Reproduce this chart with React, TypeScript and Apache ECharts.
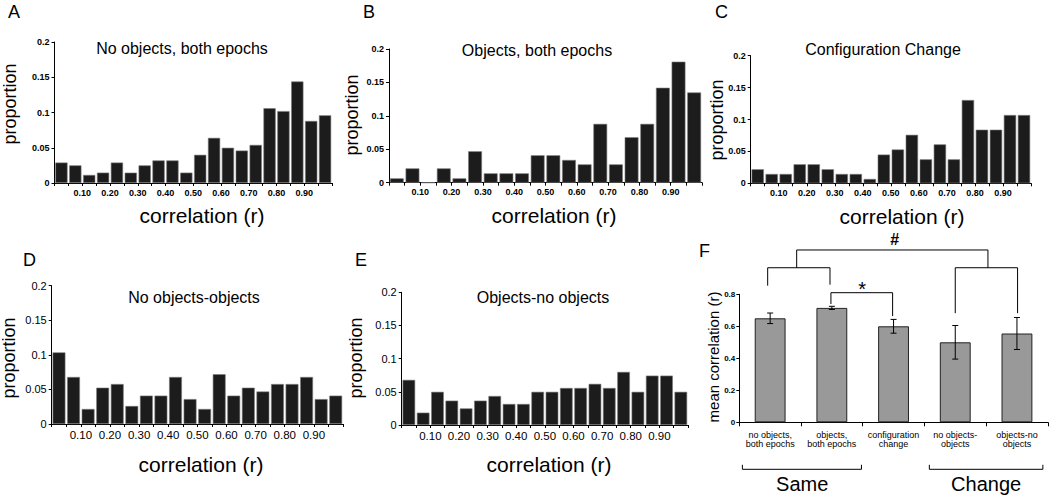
import React, { useEffect, useRef } from "react";
import * as echarts from "echarts";

// ---------- data ----------
const binStarts = [0, 0.05, 0.1, 0.15, 0.2, 0.25, 0.3, 0.35, 0.4, 0.45, 0.5, 0.55, 0.6, 0.65, 0.7, 0.75, 0.8, 0.85, 0.9, 0.95];
const binWidth = 0.05;
const xTickLabels = ["0.10", "0.20", "0.30", "0.40", "0.50", "0.60", "0.70", "0.80", "0.90"];

const noObjectsBoth = [0.029, 0.025, 0.0114, 0.0147, 0.029, 0.0147, 0.025, 0.032, 0.032, 0.0147, 0.04, 0.064, 0.05, 0.046, 0.054, 0.106, 0.102, 0.144, 0.088, 0.096];
const objectsBoth = [0.0065, 0.0214, 0, 0.0214, 0.0065, 0.047, 0.014, 0.014, 0.014, 0.041, 0.041, 0.034, 0.0274, 0.088, 0.0274, 0.068, 0.088, 0.142, 0.181, 0.135];
const configChange = [0.022, 0.0146, 0.0146, 0.0298, 0.0298, 0.022, 0.0146, 0.0146, 0.0068, 0.045, 0.053, 0.076, 0.0376, 0.061, 0.0376, 0.1305, 0.084, 0.084, 0.107, 0.107];
const noObjectsToObjects = [0.1036, 0.068, 0.0217, 0.0525, 0.0578, 0.026, 0.041, 0.041, 0.068, 0.036, 0.0217, 0.072, 0.041, 0.0525, 0.047, 0.0578, 0.0578, 0.068, 0.036, 0.041];
const objectsToNoObjects = [0.068, 0.0186, 0.05, 0.0367, 0.025, 0.0367, 0.0437, 0.0317, 0.0317, 0.05, 0.05, 0.0558, 0.0558, 0.062, 0.0558, 0.08, 0.05, 0.0744, 0.0744, 0.05];

const meanCategories = ["no objects,\nboth epochs", "objects,\nboth epochs", "configuration\nchange", "no objects-\nobjects", "objects-no\nobjects"];
const meanValues = [0.65, 0.715, 0.6, 0.5, 0.555];
const meanErrors = [0.033, 0.01, 0.043, 0.105, 0.1];

// ---------- styling ----------
const FONT = "'Liberation Sans', Arial, Helvetica, sans-serif";
const NARROW = "'Liberation Sans Narrow', 'Liberation Sans', Arial, sans-serif";

type Panel = {
  letter: string;
  title: string;
  values: number[];
  grid: { left: number; top: number; width: number; height: number };
  letterPos: [number, number];
  titlePos: [number, number];
  yNamePos: [number, number];
  xNamePos: [number, number];
  small: boolean;
};

const panels: Panel[] = [
  { letter: "A", title: "No objects, both epochs", values: noObjectsBoth, grid: { left: 54.5, top: 42, width: 277.5, height: 141 }, letterPos: [8, 12], titlePos: [182, 48], yNamePos: [10, 104], xNamePos: [202, 215], small: true },
  { letter: "B", title: "Objects, both epochs", values: objectsBoth, grid: { left: 389, top: 49, width: 313, height: 133.7 }, letterPos: [363, 12], titlePos: [537, 50], yNamePos: [351.5, 115], xNamePos: [554, 215], small: true },
  { letter: "C", title: "Configuration Change", values: configChange, grid: { left: 750.7, top: 55.7, width: 280.3, height: 127.6 }, letterPos: [715, 12], titlePos: [883, 49], yNamePos: [717, 120], xNamePos: [902, 216], small: true },
  { letter: "D", title: "No objects-objects", values: noObjectsToObjects, grid: { left: 51.7, top: 285.7, width: 291.3, height: 138.3 }, letterPos: [23, 260], titlePos: [194, 297], yNamePos: [9, 358], xNamePos: [201, 464], small: false },
  { letter: "E", title: "Objects-no objects", values: objectsToNoObjects, grid: { left: 401.7, top: 292.3, width: 286.3, height: 132.7 }, letterPos: [355, 260], titlePos: [543, 297], yNamePos: [356, 358], xNamePos: [549, 464], small: false },
];

const fGrid = { left: 739.3, top: 294.3, width: 308.5, height: 128 };

const txt = (x: number, y: number, text: string, font: string, extra: any = {}) => ({
  type: "text",
  x,
  y,
  rotation: extra.rotation || 0,
  silent: true,
  z: 100,
  style: {
    text,
    font,
    fill: "#000",
    align: extra.align || "center",
    verticalAlign: "middle",
    textAlign: extra.align || "center",
    textVerticalAlign: "middle",
  },
});

const poly = (points: number[][]) => ({
  type: "polyline",
  silent: true,
  z: 100,
  shape: { points },
  style: { stroke: "#000", lineWidth: 1, fill: "none" },
});

export default function App() {
  const ref = useRef<HTMLDivElement>(null);

  useEffect(() => {
    document.body.style.margin = "0";
    if (!ref.current) return;
    const chart = echarts.init(ref.current, null, { renderer: "svg" });

    const grids: any[] = [];
    const xAxes: any[] = [];
    const yAxes: any[] = [];
    const series: any[] = [];

    panels.forEach((p, i) => {
      grids.push({ ...p.grid, containLabel: false });
      const tickFont = p.small
        ? { fontFamily: NARROW, fontWeight: "bold", fontSize: 9 }
        : { fontFamily: NARROW, fontWeight: "normal", fontSize: 11.5 };
      xAxes.push({
        gridIndex: i,
        type: "value",
        min: 0,
        max: 1,
        interval: binWidth,
        axisLine: { show: true, onZero: false, lineStyle: { color: "#000", width: 1 } },
        axisTick: { show: true, length: 3, lineStyle: { color: "#000" } },
        splitLine: { show: false },
        axisLabel: {
          color: "#000",
          margin: 5,
          ...tickFont,
          formatter: (v: number) => {
            const s = v.toFixed(2);
            return xTickLabels.includes(s) ? s : "";
          },
        },
      });
      yAxes.push({
        gridIndex: i,
        type: "value",
        min: 0,
        max: 0.2,
        interval: 0.05,
        axisLine: { show: true, lineStyle: { color: "#000", width: 1 } },
        axisTick: { show: true, length: 3, lineStyle: { color: "#000" } },
        splitLine: { show: false },
        axisLabel: { color: "#000", margin: 5, ...tickFont, fontSize: p.small ? 9 : 11 },
      });
      series.push({
        type: "bar",
        xAxisIndex: i,
        yAxisIndex: i,
        barWidth: "88%",
        itemStyle: { color: "#1c1c1c", borderColor: "#7a7a7a", borderWidth: 0.6 },
        data: p.values.map((v, k) => [binStarts[k] + binWidth / 2, v]),
      });
    });

    // Panel F
    grids.push({ ...fGrid, containLabel: false });
    xAxes.push({
      gridIndex: 5,
      type: "category",
      data: meanCategories,
      boundaryGap: true,
      axisLine: { show: true, lineStyle: { color: "#000", width: 1 } },
      axisTick: { show: true, length: 4, alignWithLabel: false, lineStyle: { color: "#000" } },
      axisLabel: { interval: 0, color: "#000", fontFamily: FONT, fontSize: 9, lineHeight: 9, margin: 8 },
    });
    yAxes.push({
      gridIndex: 5,
      type: "value",
      min: 0,
      max: 0.8,
      interval: 0.2,
      axisLine: { show: true, lineStyle: { color: "#000", width: 1 } },
      axisTick: { show: true, length: 3, lineStyle: { color: "#000" } },
      splitLine: { show: false },
      axisLabel: { color: "#000", fontFamily: NARROW, fontWeight: "bold", fontSize: 8, margin: 4 },
    });
    series.push({
      type: "bar",
      xAxisIndex: 5,
      yAxisIndex: 5,
      barWidth: "50%",
      itemStyle: { color: "#999999", borderColor: "#222", borderWidth: 1 },
      data: meanValues,
    });
    series.push({
      type: "custom",
      xAxisIndex: 5,
      yAxisIndex: 5,
      z: 5,
      encode: { x: 0, y: [1, 2] },
      data: meanValues.map((m, i) => [i, m - meanErrors[i], m + meanErrors[i]]),
      renderItem: (params: any, api: any) => {
        const lo = api.coord([api.value(0), api.value(1)]);
        const hi = api.coord([api.value(0), api.value(2)]);
        const cap = 3;
        const st = { stroke: "#000", lineWidth: 1 };
        return {
          type: "group",
          children: [
            { type: "line", shape: { x1: lo[0], y1: lo[1], x2: hi[0], y2: hi[1] }, style: st },
            { type: "line", shape: { x1: lo[0] - cap, y1: lo[1], x2: lo[0] + cap, y2: lo[1] }, style: st },
            { type: "line", shape: { x1: hi[0] - cap, y1: hi[1], x2: hi[0] + cap, y2: hi[1] }, style: st },
          ],
        };
      },
    });

    chart.setOption({
      animation: false,
      backgroundColor: "#fff",
      grid: grids,
      xAxis: xAxes,
      yAxis: yAxes,
      series,
    });

    // annotations
    const P = (c: number, v: number) => chart.convertToPixel({ xAxisIndex: 5, yAxisIndex: 5 }, [c, v]) as number[];
    const x0 = P(0, 0)[0];
    const x1 = P(1, 0)[0];
    const cx = (c: number) => x0 + c * (x1 - x0);
    const vy = (v: number) => P(0, v)[1];
    const axisY = vy(0);

    const graphics: any[] = [];
    panels.forEach((p) => {
      graphics.push(txt(p.letterPos[0], p.letterPos[1], p.letter, `normal 18px ${FONT}`, { align: "left" }));
      graphics.push(txt(p.titlePos[0], p.titlePos[1], p.title, `normal 16px ${FONT}`));
      graphics.push(txt(p.yNamePos[0], p.yNamePos[1], "proportion", `normal 18px ${FONT}`, { rotation: Math.PI / 2 }));
      graphics.push(txt(p.xNamePos[0], p.xNamePos[1], "correlation (r)", `normal 21px ${FONT}`));
    });
    graphics.push(txt(699, 251, "F", `normal 18px ${FONT}`, { align: "left" }));
    graphics.push(txt(713, 357, "mean correlation (r)", `normal 15px ${FONT}`, { rotation: Math.PI / 2 }));

    const pairY = vy(0.966);
    const hashY = vy(1.077);
    const starY = vy(0.81);
    graphics.push(poly([[cx(-0.04), vy(0.854)], [cx(-0.04), pairY], [cx(0.97), pairY], [cx(0.97), vy(0.86)]]));
    graphics.push(poly([[cx(3.0), vy(0.682)], [cx(3.0), pairY], [cx(4.01), pairY], [cx(4.01), vy(0.682)]]));
    graphics.push(poly([[cx(0.43), pairY], [cx(0.43), hashY], [cx(3.53), hashY], [cx(3.53), pairY]]));
    graphics.push(poly([[cx(0.985), vy(0.739)], [cx(0.985), starY], [cx(1.985), starY], [cx(1.985), vy(0.664)]]));
    graphics.push(txt(cx(2.02), hashY - 10, "#", `bold 16px ${FONT}`));
    graphics.push(txt(cx(1.49), starY - 4, "*", `normal 20px ${FONT}`));

    const brY = axisY + 47;
    graphics.push(poly([[cx(-0.45), brY - 4.5], [cx(-0.45), brY], [cx(1.48), brY], [cx(1.48), brY - 4.5]]));
    graphics.push(poly([[cx(2.58), brY - 4.5], [cx(2.58), brY], [cx(4.42), brY], [cx(4.42), brY - 4.5]]));
    graphics.push(txt(cx(0.52), axisY + 62, "Same", `normal 20px ${FONT}`));
    graphics.push(txt(cx(3.5), axisY + 62, "Change", `normal 20px ${FONT}`));

    chart.setOption({ graphic: graphics });

    return () => chart.dispose();
  }, []);

  return <div ref={ref} style={{ width: 1050, height: 495 }} />;
}
